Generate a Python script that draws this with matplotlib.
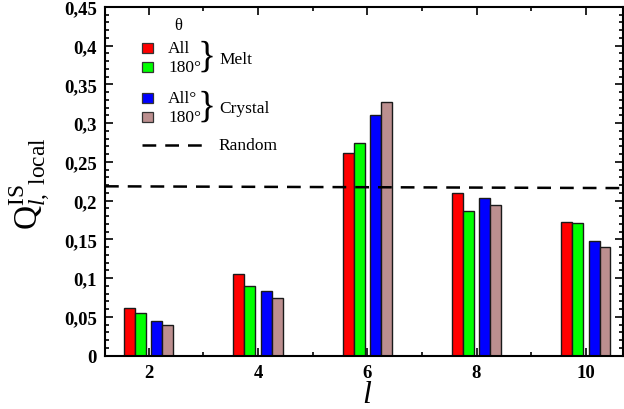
import matplotlib
matplotlib.use("Agg")
import matplotlib.pyplot as plt
from matplotlib.patches import Rectangle
from matplotlib.lines import Line2D
from matplotlib.ticker import MultipleLocator, FixedLocator, FixedFormatter

plt.rcParams['font.family'] = ['Liberation Serif', 'DejaVu Serif']
plt.rcParams['mathtext.fontset'] = 'custom'
plt.rcParams['mathtext.rm'] = 'Liberation Serif'
plt.rcParams['mathtext.it'] = 'Liberation Serif:italic'
plt.rcParams['mathtext.bf'] = 'Liberation Serif:bold'

# ---- data ----
l_values = [2, 4, 6, 8, 10]
melt_all = [0.061, 0.106, 0.261, 0.210, 0.172]
melt_180 = [0.0547, 0.0895, 0.275, 0.1863, 0.1708]
crystal_all = [0.045, 0.083, 0.3106, 0.204, 0.1476]
crystal_180 = [0.0396, 0.0748, 0.327, 0.1949, 0.1407]
random_x = [1.2, 10.68]
random_y = [0.2186, 0.2163]
y_ticks = [0, 0.05, 0.1, 0.15, 0.2, 0.25, 0.3, 0.35, 0.4, 0.45]
y_tick_labels = ['0', '0,05', '0,1', '0,15', '0,2', '0,25', '0,3', '0,35', '0,4', '0,45']
x_tick_labels = ['2', '4', '6', '8', '10']

series = [melt_all, melt_180, crystal_all, crystal_180]
colors = ['#FF0000', '#00FF00', '#0000FF', '#BC8F8F']
offsets = [-0.35, -0.15, 0.15, 0.35]
width = 0.2
dash = (0, (5.5, 3.6))

fig = plt.figure(figsize=(6.24, 4.10), dpi=100)
ax = fig.add_axes([105/624, 53.3/410, 518/624, 348.7/410])

for vals, c, off in zip(series, colors, offsets):
    ax.bar([x + off for x in l_values], vals, width=width, color=c,
           edgecolor='#1a1a1a', linewidth=1.0, zorder=2)

ax.plot(random_x, random_y, color='black', linestyle=dash, linewidth=1.8, zorder=3)

ax.set_xlim(1.2, 10.68)
ax.set_ylim(0, 0.45)

ax.xaxis.set_major_locator(FixedLocator(l_values))
ax.xaxis.set_major_formatter(FixedFormatter(x_tick_labels))
ax.xaxis.set_minor_locator(MultipleLocator(1))
ax.yaxis.set_major_locator(FixedLocator(y_ticks))
ax.yaxis.set_major_formatter(FixedFormatter(y_tick_labels))
ax.yaxis.set_minor_locator(MultipleLocator(0.01))

ax.tick_params(which='both', direction='in', top=True, right=True, width=1.2)
ax.tick_params(which='major', length=6, labelsize=13.5, pad=6)
ax.tick_params(which='minor', length=3)
for lab in ax.get_xticklabels() + ax.get_yticklabels():
    lab.set_fontweight('bold')
for s in ax.spines.values():
    s.set_linewidth(1.5)

# axis labels
fig.text(30/624, 1 - 184/410, r'$\mathrm{Q}^{\mathrm{IS}}_{l,\ \mathrm{local}}$',
         rotation=90, fontsize=24, ha='center', va='center')
fig.text(367/624, 1 - 396/410, r'$l$', fontsize=23, ha='center', va='center')

# custom legend (in pixel -> figure coords)
def fx(px):
    return px / 624
def fy(py):
    return 1 - py / 410

fig.text(fx(178), fy(26), 'θ', fontsize=12, ha='center', va='center')
sq = [(44, colors[0], 'All'), (63, colors[1], '180°'),
      (94, colors[2], 'All°'), (113, colors[3], '180°')]
for top, c, txt in sq:
    fig.patches.append(Rectangle((fx(142), fy(top + 10)), 11/624, 10/410,
                                 transform=fig.transFigure, facecolor=c,
                                 edgecolor='#333333', linewidth=0.9))
    fig.text(fx(168), fy(top + 5), txt, fontsize=12.5, ha='left', va='center')

fig.text(fx(207), fy(57), '}', fontsize=27, ha='center', va='center')
fig.text(fx(219), fy(60), 'Melt', fontsize=12.5, ha='left', va='center')
fig.text(fx(207), fy(107), '}', fontsize=27, ha='center', va='center')
fig.text(fx(219), fy(109), 'Crystal', fontsize=12.5, ha='left', va='center')

fig.lines.append(Line2D([fx(142), fx(202)], [fy(146), fy(146)], transform=fig.transFigure,
                        color='black', linestyle=dash, linewidth=1.8))
fig.text(fx(218), fy(146), 'Random', fontsize=12.5, ha='left', va='center')

fig.savefig('out.png', dpi=100)
